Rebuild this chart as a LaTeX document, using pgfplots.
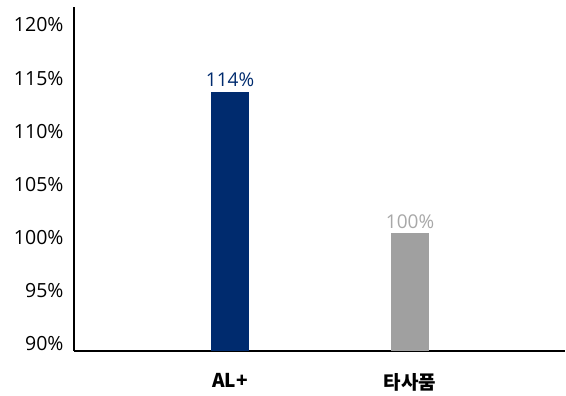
\documentclass[border=0pt]{standalone}
\usepackage{fontspec}
\setmainfont{Open Sans}
\newfontfamily\kr{Noto Sans CJK KR}
\usepackage{pgfplots}
\pgfplotsset{compat=1.18}
\definecolor{navy}{HTML}{002B6E}
\definecolor{barGray}{HTML}{A0A0A0}
\definecolor{lblGray}{HTML}{A8A8A8}
\begin{document}
\begin{tikzpicture}
\path[use as bounding box] (-74pt,-45pt) rectangle (492pt,351pt);
\begin{axis}[
  at={(0,0)}, anchor=south west,
  scale only axis, width=491pt, height=344pt,
  xmin=-0.867, xmax=1.861, ymin=89.34, ymax=121.69,
  axis lines*=left,
  x axis line style={line width=1.6pt},
  y axis line style={line width=1.2pt},
  xtick={0,1}, xticklabels={AL+, 타사품},
  xticklabel style={font=\kr\bfseries\fontsize{19}{22}\selectfont, yshift=-19pt},
  ytick={90,95,...,120},
  yticklabel={\pgfmathprintnumber{\tick}\%},
  yticklabel style={font=\fontsize{19.5}{23}\selectfont, xshift=-7pt},
  /pgf/number format/assume math mode=true,
  major tick length=0pt,
  ybar, bar width=38pt,
  nodes near coords style={font=\fontsize{19}{22}\selectfont, anchor=south, inner sep=5pt},
]
\addplot[fill=navy, draw=none, bar shift=0pt, nodes near coords={114\%}, every node near coord/.append style={text=navy}] coordinates {(0,113.7)};
\addplot[fill=barGray, draw=none, bar shift=0pt, nodes near coords={100\%}, every node near coord/.append style={text=lblGray}] coordinates {(1,100.4)};
\end{axis}
\end{tikzpicture}
\end{document}
